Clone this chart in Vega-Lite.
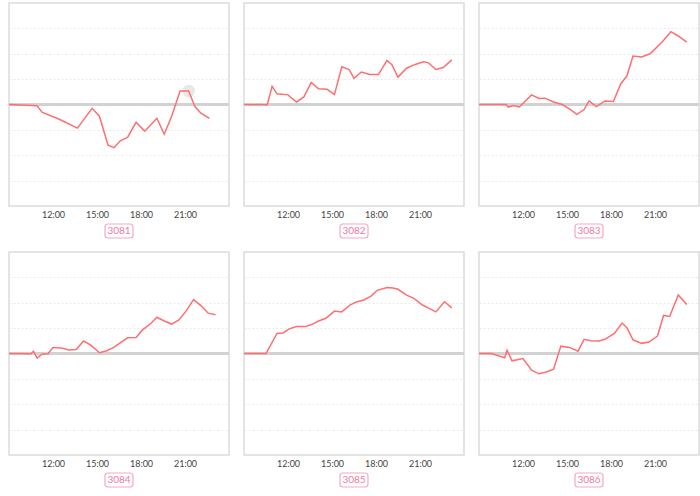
{
  "$schema": "https://vega.github.io/schema/vega-lite/v6.json",
  "padding": {"left": 5, "top": 2, "right": 0, "bottom": 0},
  "background": "white",
  "data": {
    "format": {"parse": {"t": "date:'%H:%M'"}},
    "values": [
      {"id": 3081, "t": "09:00", "v": 0},
      {"id": 3081, "t": "10:55", "v": -0.05},
      {"id": 3081, "t": "11:15", "v": -0.3},
      {"id": 3081, "t": "12:30", "v": -0.6},
      {"id": 3081, "t": "13:40", "v": -0.93},
      {"id": 3081, "t": "14:40", "v": -0.15},
      {"id": 3081, "t": "15:10", "v": -0.46},
      {"id": 3081, "t": "15:45", "v": -1.6},
      {"id": 3081, "t": "16:10", "v": -1.7},
      {"id": 3081, "t": "16:35", "v": -1.43},
      {"id": 3081, "t": "17:05", "v": -1.3},
      {"id": 3081, "t": "17:40", "v": -0.7},
      {"id": 3081, "t": "18:15", "v": -1.05},
      {"id": 3081, "t": "19:05", "v": -0.54},
      {"id": 3081, "t": "19:35", "v": -1.17},
      {"id": 3081, "t": "20:05", "v": -0.47},
      {"id": 3081, "t": "20:40", "v": 0.53},
      {"id": 3081, "t": "21:15", "v": 0.53},
      {"id": 3081, "t": "21:40", "v": -0.07},
      {"id": 3081, "t": "22:05", "v": -0.34},
      {"id": 3081, "t": "22:40", "v": -0.55},

      {"id": 3082, "t": "09:00", "v": 0},
      {"id": 3082, "t": "10:35", "v": -0.01},
      {"id": 3082, "t": "10:55", "v": 0.72},
      {"id": 3082, "t": "11:15", "v": 0.42},
      {"id": 3082, "t": "12:00", "v": 0.38},
      {"id": 3082, "t": "12:35", "v": 0.1},
      {"id": 3082, "t": "13:05", "v": 0.3},
      {"id": 3082, "t": "13:35", "v": 0.87},
      {"id": 3082, "t": "14:05", "v": 0.62},
      {"id": 3082, "t": "14:40", "v": 0.6},
      {"id": 3082, "t": "15:10", "v": 0.39},
      {"id": 3082, "t": "15:40", "v": 1.49},
      {"id": 3082, "t": "16:10", "v": 1.38},
      {"id": 3082, "t": "16:30", "v": 1.03},
      {"id": 3082, "t": "17:00", "v": 1.28},
      {"id": 3082, "t": "17:35", "v": 1.18},
      {"id": 3082, "t": "18:10", "v": 1.18},
      {"id": 3082, "t": "18:45", "v": 1.74},
      {"id": 3082, "t": "19:05", "v": 1.57},
      {"id": 3082, "t": "19:30", "v": 1.08},
      {"id": 3082, "t": "20:05", "v": 1.43},
      {"id": 3082, "t": "20:40", "v": 1.58},
      {"id": 3082, "t": "21:15", "v": 1.68},
      {"id": 3082, "t": "21:35", "v": 1.64},
      {"id": 3082, "t": "22:05", "v": 1.38},
      {"id": 3082, "t": "22:35", "v": 1.46},
      {"id": 3082, "t": "23:10", "v": 1.76},

      {"id": 3083, "t": "09:00", "v": 0},
      {"id": 3083, "t": "10:50", "v": 0},
      {"id": 3083, "t": "11:00", "v": -0.1},
      {"id": 3083, "t": "11:20", "v": -0.04},
      {"id": 3083, "t": "11:45", "v": -0.1},
      {"id": 3083, "t": "12:35", "v": 0.38},
      {"id": 3083, "t": "13:05", "v": 0.24},
      {"id": 3083, "t": "13:30", "v": 0.25},
      {"id": 3083, "t": "14:05", "v": 0.1},
      {"id": 3083, "t": "14:40", "v": 0},
      {"id": 3083, "t": "15:10", "v": -0.17},
      {"id": 3083, "t": "15:40", "v": -0.39},
      {"id": 3083, "t": "16:10", "v": -0.2},
      {"id": 3083, "t": "16:30", "v": 0.14},
      {"id": 3083, "t": "17:00", "v": -0.08},
      {"id": 3083, "t": "17:35", "v": 0.14},
      {"id": 3083, "t": "18:10", "v": 0.12},
      {"id": 3083, "t": "18:40", "v": 0.82},
      {"id": 3083, "t": "19:05", "v": 1.12},
      {"id": 3083, "t": "19:30", "v": 1.91},
      {"id": 3083, "t": "20:05", "v": 1.87},
      {"id": 3083, "t": "20:40", "v": 2.0},
      {"id": 3083, "t": "21:30", "v": 2.47},
      {"id": 3083, "t": "22:05", "v": 2.87},
      {"id": 3083, "t": "22:35", "v": 2.7},
      {"id": 3083, "t": "23:10", "v": 2.46},

      {"id": 3084, "t": "09:00", "v": 0},
      {"id": 3084, "t": "10:30", "v": -0.01},
      {"id": 3084, "t": "10:40", "v": 0.09},
      {"id": 3084, "t": "10:55", "v": -0.18},
      {"id": 3084, "t": "11:15", "v": -0.03},
      {"id": 3084, "t": "11:40", "v": -0.01},
      {"id": 3084, "t": "12:00", "v": 0.24},
      {"id": 3084, "t": "12:35", "v": 0.22},
      {"id": 3084, "t": "13:05", "v": 0.14},
      {"id": 3084, "t": "13:35", "v": 0.16},
      {"id": 3084, "t": "14:05", "v": 0.49},
      {"id": 3084, "t": "14:35", "v": 0.33},
      {"id": 3084, "t": "15:10", "v": 0.03},
      {"id": 3084, "t": "15:40", "v": 0.11},
      {"id": 3084, "t": "16:10", "v": 0.25},
      {"id": 3084, "t": "16:35", "v": 0.42},
      {"id": 3084, "t": "17:05", "v": 0.62},
      {"id": 3084, "t": "17:40", "v": 0.63},
      {"id": 3084, "t": "18:05", "v": 0.92},
      {"id": 3084, "t": "18:40", "v": 1.18},
      {"id": 3084, "t": "19:05", "v": 1.43},
      {"id": 3084, "t": "19:35", "v": 1.28},
      {"id": 3084, "t": "20:05", "v": 1.16},
      {"id": 3084, "t": "20:35", "v": 1.32},
      {"id": 3084, "t": "21:05", "v": 1.68},
      {"id": 3084, "t": "21:35", "v": 2.12},
      {"id": 3084, "t": "22:05", "v": 1.89},
      {"id": 3084, "t": "22:35", "v": 1.59},
      {"id": 3084, "t": "23:05", "v": 1.53},

      {"id": 3085, "t": "09:00", "v": 0},
      {"id": 3085, "t": "10:30", "v": 0},
      {"id": 3085, "t": "11:15", "v": 0.79},
      {"id": 3085, "t": "11:40", "v": 0.81},
      {"id": 3085, "t": "12:05", "v": 0.97},
      {"id": 3085, "t": "12:35", "v": 1.06},
      {"id": 3085, "t": "13:10", "v": 1.06},
      {"id": 3085, "t": "13:35", "v": 1.13},
      {"id": 3085, "t": "14:05", "v": 1.28},
      {"id": 3085, "t": "14:35", "v": 1.39},
      {"id": 3085, "t": "15:10", "v": 1.67},
      {"id": 3085, "t": "15:40", "v": 1.64},
      {"id": 3085, "t": "16:15", "v": 1.92},
      {"id": 3085, "t": "16:40", "v": 2.03},
      {"id": 3085, "t": "17:10", "v": 2.11},
      {"id": 3085, "t": "17:40", "v": 2.26},
      {"id": 3085, "t": "18:05", "v": 2.49},
      {"id": 3085, "t": "18:45", "v": 2.6},
      {"id": 3085, "t": "19:10", "v": 2.58},
      {"id": 3085, "t": "19:30", "v": 2.53},
      {"id": 3085, "t": "20:05", "v": 2.3},
      {"id": 3085, "t": "20:35", "v": 2.17},
      {"id": 3085, "t": "21:10", "v": 1.91},
      {"id": 3085, "t": "21:35", "v": 1.79},
      {"id": 3085, "t": "22:05", "v": 1.64},
      {"id": 3085, "t": "22:40", "v": 2.04},
      {"id": 3085, "t": "23:10", "v": 1.8},

      {"id": 3086, "t": "09:00", "v": 0},
      {"id": 3086, "t": "09:50", "v": 0},
      {"id": 3086, "t": "10:45", "v": -0.17},
      {"id": 3086, "t": "10:55", "v": 0.13},
      {"id": 3086, "t": "11:15", "v": -0.29},
      {"id": 3086, "t": "12:00", "v": -0.2},
      {"id": 3086, "t": "12:35", "v": -0.66},
      {"id": 3086, "t": "13:05", "v": -0.8},
      {"id": 3086, "t": "13:35", "v": -0.73},
      {"id": 3086, "t": "14:05", "v": -0.62},
      {"id": 3086, "t": "14:35", "v": 0.29},
      {"id": 3086, "t": "15:10", "v": 0.24},
      {"id": 3086, "t": "15:45", "v": 0.09},
      {"id": 3086, "t": "16:10", "v": 0.56},
      {"id": 3086, "t": "16:35", "v": 0.5},
      {"id": 3086, "t": "17:10", "v": 0.49},
      {"id": 3086, "t": "17:35", "v": 0.56},
      {"id": 3086, "t": "18:15", "v": 0.8},
      {"id": 3086, "t": "18:45", "v": 1.2},
      {"id": 3086, "t": "19:05", "v": 1.02},
      {"id": 3086, "t": "19:30", "v": 0.54},
      {"id": 3086, "t": "20:05", "v": 0.4},
      {"id": 3086, "t": "20:35", "v": 0.45},
      {"id": 3086, "t": "21:10", "v": 0.69},
      {"id": 3086, "t": "21:35", "v": 1.5},
      {"id": 3086, "t": "22:00", "v": 1.46},
      {"id": 3086, "t": "22:35", "v": 2.31},
      {"id": 3086, "t": "23:10", "v": 1.93}
    ]
  },
  "columns": 3,
  "spacing": {"row": 46, "column": 15},
  "bounds": "flush",
  "concat": [
    {
      "width": 220, "height": 203,
      "resolve": {"scale": {"x": "independent", "y": "independent"}},
      "layer": [
        {
          "transform": [{"filter": "datum.id == 3081"}],
          "encoding": {
            "x": {"field": "t", "type": "temporal", "scale": {"domain": [{"year": 1900, "month": 1, "date": 1, "hours": 9}, {"year": 1900, "month": 1, "date": 2, "hours": 0}]}, "axis": {"title": null, "format": "%H:%M", "values": [{"year": 1900, "month": 1, "date": 1, "hours": 12}, {"year": 1900, "month": 1, "date": 1, "hours": 15}, {"year": 1900, "month": 1, "date": 1, "hours": 18}, {"year": 1900, "month": 1, "date": 1, "hours": 21}]}},
            "y": {"field": "v", "type": "quantitative", "scale": {"domain": [-4, 4]}, "axis": {"title": null, "values": [-3, -2, -1, 1, 2, 3]}}
          },
          "layer": [
            {"mark": {"type": "rule", "color": "#d2d2d2", "strokeWidth": 2}, "encoding": {"y": {"datum": 0}, "x": null}},
            {"transform": [{"filter": "hours(datum.t) == 21 && minutes(datum.t) == 15"}], "mark": {"type": "point", "filled": true, "color": "#d8d8d8", "opacity": 0.6, "size": 160}},
            {"mark": {"type": "line", "color": "#ff6e70", "strokeWidth": 1.5}}
          ]
        },
        {
          "data": {"values": [{"label": "3081"}]},
          "encoding": {
            "x": {"datum": 0.5, "type": "quantitative", "scale": {"domain": [0, 1]}, "axis": null},
            "y": {"datum": -0.125, "type": "quantitative", "scale": {"domain": [0, 1]}, "axis": null}
          },
          "layer": [
            {"mark": {"type": "rect", "fill": "white", "stroke": "#f7a9c3", "strokeWidth": 1.2, "cornerRadius": 3}, "encoding": {"x": {"datum": 0.4364}, "x2": {"datum": 0.5636}, "y": {"datum": -0.0887}, "y2": {"datum": -0.1577}}},
            {"mark": {"type": "text", "color": "#f07aa0", "fontSize": 10, "font": "Lato", "baseline": "middle"}, "encoding": {"text": {"field": "label"}}}
          ]
        }
      ]
    },
    {
      "width": 220, "height": 203,
      "resolve": {"scale": {"x": "independent", "y": "independent"}},
      "layer": [
        {
          "transform": [{"filter": "datum.id == 3082"}],
          "encoding": {
            "x": {"field": "t", "type": "temporal", "scale": {"domain": [{"year": 1900, "month": 1, "date": 1, "hours": 9}, {"year": 1900, "month": 1, "date": 2, "hours": 0}]}, "axis": {"title": null, "format": "%H:%M", "values": [{"year": 1900, "month": 1, "date": 1, "hours": 12}, {"year": 1900, "month": 1, "date": 1, "hours": 15}, {"year": 1900, "month": 1, "date": 1, "hours": 18}, {"year": 1900, "month": 1, "date": 1, "hours": 21}]}},
            "y": {"field": "v", "type": "quantitative", "scale": {"domain": [-4, 4]}, "axis": {"title": null, "values": [-3, -2, -1, 1, 2, 3]}}
          },
          "layer": [
            {"mark": {"type": "rule", "color": "#d2d2d2", "strokeWidth": 2}, "encoding": {"y": {"datum": 0}, "x": null}},
            {"mark": {"type": "line", "color": "#ff6e70", "strokeWidth": 1.5}}
          ]
        },
        {
          "data": {"values": [{"label": "3082"}]},
          "encoding": {
            "x": {"datum": 0.5, "type": "quantitative", "scale": {"domain": [0, 1]}, "axis": null},
            "y": {"datum": -0.125, "type": "quantitative", "scale": {"domain": [0, 1]}, "axis": null}
          },
          "layer": [
            {"mark": {"type": "rect", "fill": "white", "stroke": "#f7a9c3", "strokeWidth": 1.2, "cornerRadius": 3}, "encoding": {"x": {"datum": 0.4364}, "x2": {"datum": 0.5636}, "y": {"datum": -0.0887}, "y2": {"datum": -0.1577}}},
            {"mark": {"type": "text", "color": "#f07aa0", "fontSize": 10, "font": "Lato", "baseline": "middle"}, "encoding": {"text": {"field": "label"}}}
          ]
        }
      ]
    },
    {
      "width": 220, "height": 203,
      "resolve": {"scale": {"x": "independent", "y": "independent"}},
      "layer": [
        {
          "transform": [{"filter": "datum.id == 3083"}],
          "encoding": {
            "x": {"field": "t", "type": "temporal", "scale": {"domain": [{"year": 1900, "month": 1, "date": 1, "hours": 9}, {"year": 1900, "month": 1, "date": 2, "hours": 0}]}, "axis": {"title": null, "format": "%H:%M", "values": [{"year": 1900, "month": 1, "date": 1, "hours": 12}, {"year": 1900, "month": 1, "date": 1, "hours": 15}, {"year": 1900, "month": 1, "date": 1, "hours": 18}, {"year": 1900, "month": 1, "date": 1, "hours": 21}]}},
            "y": {"field": "v", "type": "quantitative", "scale": {"domain": [-4, 4]}, "axis": {"title": null, "values": [-3, -2, -1, 1, 2, 3]}}
          },
          "layer": [
            {"mark": {"type": "rule", "color": "#d2d2d2", "strokeWidth": 2}, "encoding": {"y": {"datum": 0}, "x": null}},
            {"mark": {"type": "line", "color": "#ff6e70", "strokeWidth": 1.5}}
          ]
        },
        {
          "data": {"values": [{"label": "3083"}]},
          "encoding": {
            "x": {"datum": 0.5, "type": "quantitative", "scale": {"domain": [0, 1]}, "axis": null},
            "y": {"datum": -0.125, "type": "quantitative", "scale": {"domain": [0, 1]}, "axis": null}
          },
          "layer": [
            {"mark": {"type": "rect", "fill": "white", "stroke": "#f7a9c3", "strokeWidth": 1.2, "cornerRadius": 3}, "encoding": {"x": {"datum": 0.4364}, "x2": {"datum": 0.5636}, "y": {"datum": -0.0887}, "y2": {"datum": -0.1577}}},
            {"mark": {"type": "text", "color": "#f07aa0", "fontSize": 10, "font": "Lato", "baseline": "middle"}, "encoding": {"text": {"field": "label"}}}
          ]
        }
      ]
    },
    {
      "width": 220, "height": 203,
      "resolve": {"scale": {"x": "independent", "y": "independent"}},
      "layer": [
        {
          "transform": [{"filter": "datum.id == 3084"}],
          "encoding": {
            "x": {"field": "t", "type": "temporal", "scale": {"domain": [{"year": 1900, "month": 1, "date": 1, "hours": 9}, {"year": 1900, "month": 1, "date": 2, "hours": 0}]}, "axis": {"title": null, "format": "%H:%M", "values": [{"year": 1900, "month": 1, "date": 1, "hours": 12}, {"year": 1900, "month": 1, "date": 1, "hours": 15}, {"year": 1900, "month": 1, "date": 1, "hours": 18}, {"year": 1900, "month": 1, "date": 1, "hours": 21}]}},
            "y": {"field": "v", "type": "quantitative", "scale": {"domain": [-4, 4]}, "axis": {"title": null, "values": [-3, -2, -1, 1, 2, 3]}}
          },
          "layer": [
            {"mark": {"type": "rule", "color": "#d2d2d2", "strokeWidth": 2}, "encoding": {"y": {"datum": 0}, "x": null}},
            {"mark": {"type": "line", "color": "#ff6e70", "strokeWidth": 1.5}}
          ]
        },
        {
          "data": {"values": [{"label": "3084"}]},
          "encoding": {
            "x": {"datum": 0.5, "type": "quantitative", "scale": {"domain": [0, 1]}, "axis": null},
            "y": {"datum": -0.125, "type": "quantitative", "scale": {"domain": [0, 1]}, "axis": null}
          },
          "layer": [
            {"mark": {"type": "rect", "fill": "white", "stroke": "#f7a9c3", "strokeWidth": 1.2, "cornerRadius": 3}, "encoding": {"x": {"datum": 0.4364}, "x2": {"datum": 0.5636}, "y": {"datum": -0.0887}, "y2": {"datum": -0.1577}}},
            {"mark": {"type": "text", "color": "#f07aa0", "fontSize": 10, "font": "Lato", "baseline": "middle"}, "encoding": {"text": {"field": "label"}}}
          ]
        }
      ]
    },
    {
      "width": 220, "height": 203,
      "resolve": {"scale": {"x": "independent", "y": "independent"}},
      "layer": [
        {
          "transform": [{"filter": "datum.id == 3085"}],
          "encoding": {
            "x": {"field": "t", "type": "temporal", "scale": {"domain": [{"year": 1900, "month": 1, "date": 1, "hours": 9}, {"year": 1900, "month": 1, "date": 2, "hours": 0}]}, "axis": {"title": null, "format": "%H:%M", "values": [{"year": 1900, "month": 1, "date": 1, "hours": 12}, {"year": 1900, "month": 1, "date": 1, "hours": 15}, {"year": 1900, "month": 1, "date": 1, "hours": 18}, {"year": 1900, "month": 1, "date": 1, "hours": 21}]}},
            "y": {"field": "v", "type": "quantitative", "scale": {"domain": [-4, 4]}, "axis": {"title": null, "values": [-3, -2, -1, 1, 2, 3]}}
          },
          "layer": [
            {"mark": {"type": "rule", "color": "#d2d2d2", "strokeWidth": 2}, "encoding": {"y": {"datum": 0}, "x": null}},
            {"mark": {"type": "line", "color": "#ff6e70", "strokeWidth": 1.5}}
          ]
        },
        {
          "data": {"values": [{"label": "3085"}]},
          "encoding": {
            "x": {"datum": 0.5, "type": "quantitative", "scale": {"domain": [0, 1]}, "axis": null},
            "y": {"datum": -0.125, "type": "quantitative", "scale": {"domain": [0, 1]}, "axis": null}
          },
          "layer": [
            {"mark": {"type": "rect", "fill": "white", "stroke": "#f7a9c3", "strokeWidth": 1.2, "cornerRadius": 3}, "encoding": {"x": {"datum": 0.4364}, "x2": {"datum": 0.5636}, "y": {"datum": -0.0887}, "y2": {"datum": -0.1577}}},
            {"mark": {"type": "text", "color": "#f07aa0", "fontSize": 10, "font": "Lato", "baseline": "middle"}, "encoding": {"text": {"field": "label"}}}
          ]
        }
      ]
    },
    {
      "width": 220, "height": 203,
      "resolve": {"scale": {"x": "independent", "y": "independent"}},
      "layer": [
        {
          "transform": [{"filter": "datum.id == 3086"}],
          "encoding": {
            "x": {"field": "t", "type": "temporal", "scale": {"domain": [{"year": 1900, "month": 1, "date": 1, "hours": 9}, {"year": 1900, "month": 1, "date": 2, "hours": 0}]}, "axis": {"title": null, "format": "%H:%M", "values": [{"year": 1900, "month": 1, "date": 1, "hours": 12}, {"year": 1900, "month": 1, "date": 1, "hours": 15}, {"year": 1900, "month": 1, "date": 1, "hours": 18}, {"year": 1900, "month": 1, "date": 1, "hours": 21}]}},
            "y": {"field": "v", "type": "quantitative", "scale": {"domain": [-4, 4]}, "axis": {"title": null, "values": [-3, -2, -1, 1, 2, 3]}}
          },
          "layer": [
            {"mark": {"type": "rule", "color": "#d2d2d2", "strokeWidth": 2}, "encoding": {"y": {"datum": 0}, "x": null}},
            {"mark": {"type": "line", "color": "#ff6e70", "strokeWidth": 1.5}}
          ]
        },
        {
          "data": {"values": [{"label": "3086"}]},
          "encoding": {
            "x": {"datum": 0.5, "type": "quantitative", "scale": {"domain": [0, 1]}, "axis": null},
            "y": {"datum": -0.125, "type": "quantitative", "scale": {"domain": [0, 1]}, "axis": null}
          },
          "layer": [
            {"mark": {"type": "rect", "fill": "white", "stroke": "#f7a9c3", "strokeWidth": 1.2, "cornerRadius": 3}, "encoding": {"x": {"datum": 0.4364}, "x2": {"datum": 0.5636}, "y": {"datum": -0.0887}, "y2": {"datum": -0.1577}}},
            {"mark": {"type": "text", "color": "#f07aa0", "fontSize": 10, "font": "Lato", "baseline": "middle"}, "encoding": {"text": {"field": "label"}}}
          ]
        }
      ]
    }
  ],
  "config": {
    "view": {"stroke": "#dcdcdc", "strokeWidth": 1.5},
    "axisX": {"ticks": false, "domain": false, "grid": false, "labelFontSize": 9, "labelColor": "#444", "labelPadding": 4, "labelFont": "Lato"},
    "axisY": {"labels": false, "ticks": false, "domain": false, "grid": true, "gridColor": "#e8e8e8", "gridDash": [2, 2], "gridWidth": 1}
  }
}
